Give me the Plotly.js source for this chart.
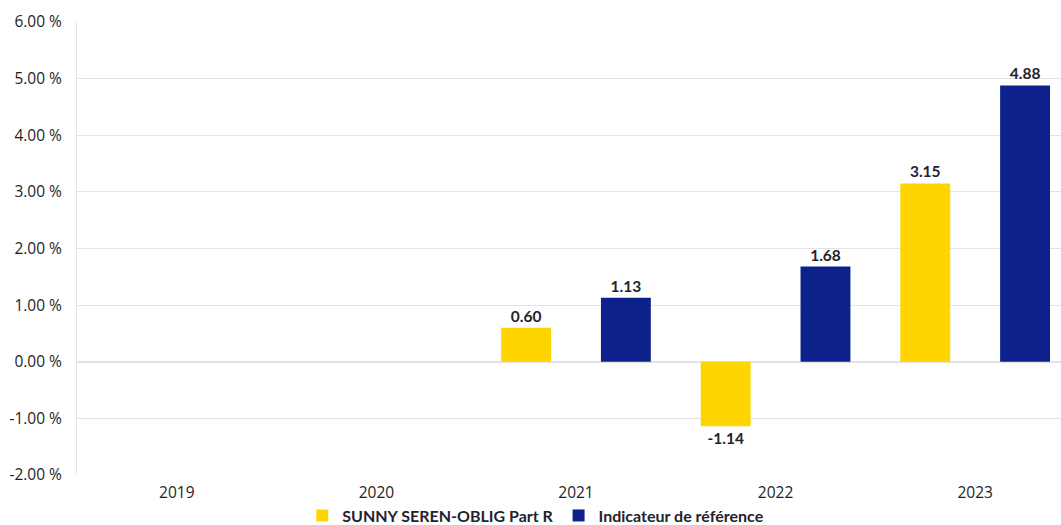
<!DOCTYPE html>
<html>
<head>
<meta charset="utf-8">
<script src="https://cdn.plot.ly/plotly-3.0.1.min.js"></script>
<style>
html,body{margin:0;padding:0;background:#fff;overflow:hidden;}
#chart{width:1061px;height:525px;}
</style>
</head>
<body>
<div id="chart"></div>
<script>
const years = ["2019", "2020", "2021", "2022", "2023"];
const fundName = "SUNNY SEREN-OBLIG Part R";
const benchName = "Indicateur de référence";
const fundValues = [null, null, 0.60, -1.14, 3.15];
const benchValues = [null, null, 1.13, 1.68, 4.88];
const yTicks = [-2, -1, 0, 1, 2, 3, 4, 5, 6];
const yTickText = yTicks.map(v => v.toFixed(2) + " %");

const labelFont = {family: "Lato, sans-serif", size: 15.5, color: "#23232b", weight: 700};
const tickFont = {family: "Open Sans, sans-serif", size: 15.5, color: "#1e1e1e"};

const traces = [
  {
    type: "bar", name: fundName, x: years, y: fundValues,
    marker: {color: "#FFD500"},
    texttemplate: "%{y:.2f}", textposition: "outside",
    textfont: labelFont, cliponaxis: false, hoverinfo: "skip"
  },
  {
    type: "bar", name: benchName, x: years, y: benchValues,
    marker: {color: "#0C2189"},
    texttemplate: "%{y:.2f}", textposition: "outside",
    textfont: labelFont, cliponaxis: false, hoverinfo: "skip"
  }
];

const layout = {
  width: 1061, height: 525,
  margin: {l: 77, r: 0, t: 22, b: 50},
  paper_bgcolor: "#fff", plot_bgcolor: "#fff",
  barmode: "group", bargap: 0, bargroupgap: 0.5,
  font: tickFont,
  xaxis: {
    type: "category", range: [-0.5, 4.43], automargin: false,
    showgrid: false, showline: false, zeroline: false,
    ticks: "", tickfont: tickFont, ticklabelstandoff: 6,
    fixedrange: true
  },
  yaxis: {
    range: [-2, 6], tickvals: yTicks, ticktext: yTickText, automargin: false,
    showgrid: true, gridcolor: "#e3e3e3", gridwidth: 1,
    zeroline: true, zerolinecolor: "#e3e3e3", zerolinewidth: 2,
    showline: true, linecolor: "#e3e3e3", linewidth: 1,
    ticks: "", tickfont: tickFont, ticklabelstandoff: 11,
    fixedrange: true
  },
  showlegend: true,
  legend: {
    orientation: "h", xref: "container", yref: "container",
    x: 0.505, xanchor: "center", y: 0.018, yanchor: "middle",
    font: {family: "Lato, sans-serif", size: 16, color: "#23232b", weight: 700},
    traceorder: "normal", itemclick: false, itemdoubleclick: false
  }
};

Plotly.newPlot("chart", traces, layout, {displayModeBar: false, staticPlot: true});
</script>
</body>
</html>
